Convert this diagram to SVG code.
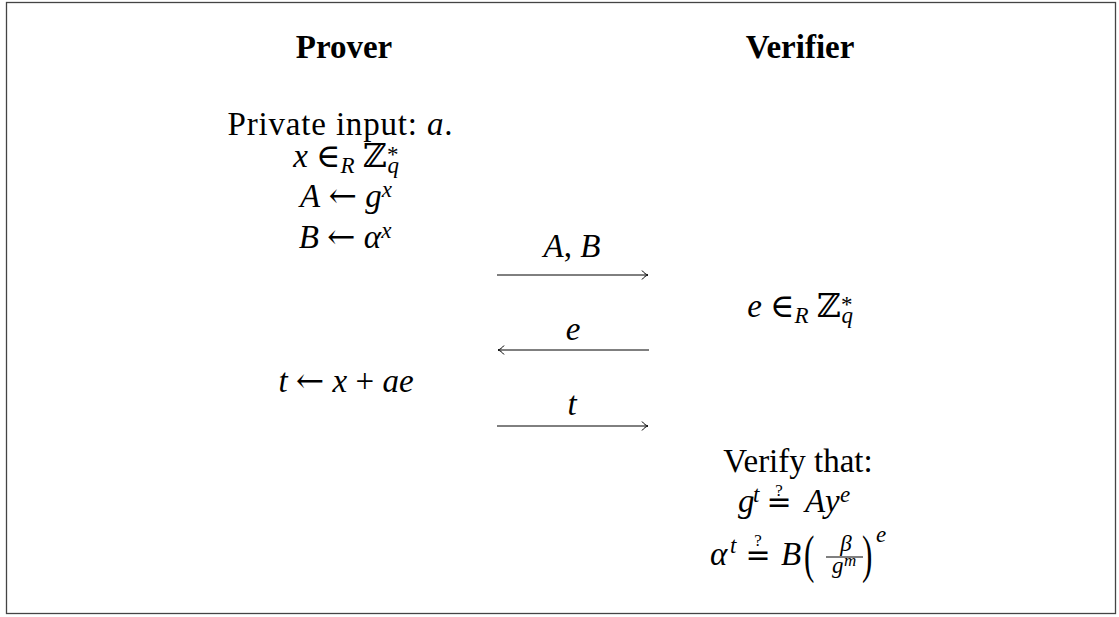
<svg xmlns="http://www.w3.org/2000/svg" width="1119" height="617" viewBox="0 0 1119 617">
<style>
text{font-family:"Liberation Serif","DejaVu Serif",serif;font-size:33px;fill:#000}
.b{font-weight:bold}
.i{font-style:italic}
.s{font-size:23px}
.ss{font-size:17px}
.c{text-anchor:middle}
.ar{font-family:"DejaVu Serif",serif;font-size:34px}
.eq{font-family:"DejaVu Sans",sans-serif;font-size:30px}
.pr{font-size:52px}
.ln{stroke:#000;stroke-width:1;fill:none}
</style>
<defs>
<marker id="ah" markerUnits="userSpaceOnUse" markerWidth="12" markerHeight="12" refX="0" refY="0" viewBox="-7 -6 8 12" orient="auto" overflow="visible">
<path d="M-6,-4.5 C-4,-2 -1.8,-0.5 0,0 C-1.8,0.5 -4,2 -6,4.5" stroke="#000" stroke-width="1" fill="none"/>
</marker>
</defs>
<rect x="6.5" y="2.5" width="1109" height="611" fill="#fff" stroke="#444" stroke-width="1.3"/>

<g id="prover">
<text class="b c" x="344" y="58">Prover</text>
<text class="c" x="340" y="135" textLength="225">Private input: <tspan class="i">a</tspan>.</text>
<text class="c" x="346" y="167"><tspan class="i">x</tspan> ∈<tspan class="i s" dy="6">R</tspan><tspan dy="-6"> ℤ</tspan><tspan class="s" dy="-5">*</tspan><tspan class="i s" dx="-11" dy="11">q</tspan></text>
<text class="c" x="346" y="207"><tspan class="i">A</tspan> <tspan class="ar">←</tspan> <tspan class="i">g</tspan><tspan class="i s" dy="-10">x</tspan></text>
<text class="c" x="345" y="248"><tspan class="i">B</tspan> <tspan class="ar">←</tspan> <tspan class="i">α</tspan><tspan class="i s" dy="-10">x</tspan></text>
<text class="c" x="346" y="392"><tspan class="i">t</tspan> <tspan class="ar">←</tspan> <tspan class="i">x</tspan> + <tspan class="i">ae</tspan></text>
</g>

<g id="verifier">
<text class="b c" x="800" y="58">Verifier</text>
<text class="c" x="800" y="317"><tspan class="i">e</tspan> ∈<tspan class="i s" dy="6">R</tspan><tspan dy="-6"> ℤ</tspan><tspan class="s" dy="-5">*</tspan><tspan class="i s" dx="-11" dy="11">q</tspan></text>
<text class="c" x="798" y="472">Verify that:</text>
<text class="i" x="738" y="512">g</text>
<text class="i s" x="753" y="502">t</text>
<text class="eq c" x="779" y="512">=</text>
<text class="ss c" x="779" y="496">?</text>
<text class="i" x="805" y="512">A</text>
<text class="i" x="825" y="512">y</text>
<text class="i s" x="840" y="502">e</text>
<text class="i" x="710" y="565">α</text>
<text class="i s" x="730" y="553">t</text>
<text class="eq c" x="758" y="565">=</text>
<text class="ss c" x="758" y="546">?</text>
<text class="i" x="781" y="565">B</text>
<text class="pr" transform="translate(804,572) scale(0.6,1)">(</text>
<text class="i s c" x="846" y="551">β</text>
<line class="ln" x1="826" y1="557" x2="863" y2="557"/>
<text class="i s" x="832" y="573">g</text>
<text class="i ss" x="844" y="566">m</text>
<text class="pr" transform="translate(862,572) scale(0.6,1)">)</text>
<text class="i s" x="876" y="542">e</text>
</g>

<g id="connectors">
<line class="ln" x1="497" y1="275" x2="648" y2="275" marker-end="url(#ah)"/>
<line class="ln" x1="649" y1="350" x2="498" y2="350" marker-end="url(#ah)"/>
<line class="ln" x1="497" y1="426" x2="648" y2="426" marker-end="url(#ah)"/>
<text class="c" x="572" y="257"><tspan class="i">A</tspan>, <tspan class="i">B</tspan></text>
<text class="i c" x="573" y="340">e</text>
<text class="i c" x="572" y="415">t</text>
</g>
</svg>
